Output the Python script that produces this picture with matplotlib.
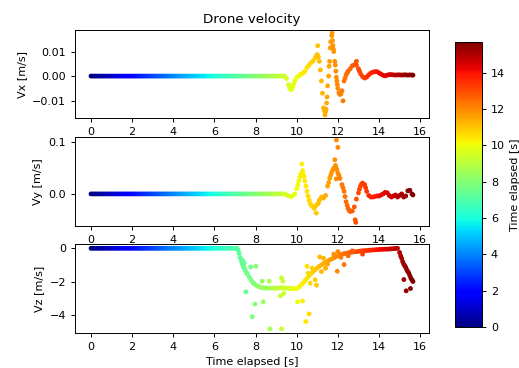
import numpy as np
import matplotlib
matplotlib.use("Agg")
import matplotlib.pyplot as plt

# sample times [s] (0.0 .. 15.6)
t = [
    0.0, 0.1, 0.2, 0.3, 0.4, 0.5, 0.6, 0.7, 0.8, 0.9,
    1.0, 1.1, 1.2, 1.3, 1.4, 1.5, 1.6, 1.7, 1.8, 1.9,
    2.0, 2.1, 2.2, 2.3, 2.4, 2.5, 2.6, 2.7, 2.8, 2.9,
    3.0, 3.1, 3.2, 3.3, 3.4, 3.5, 3.6, 3.7, 3.8, 3.9,
    4.0, 4.1, 4.2, 4.3, 4.4, 4.5, 4.6, 4.7, 4.8, 4.9,
    5.0, 5.1, 5.2, 5.3, 5.4, 5.5, 5.6, 5.7, 5.8, 5.9,
    6.0, 6.1, 6.2, 6.3, 6.4, 6.5, 6.6, 6.7, 6.8, 6.9,
    7.0, 7.1, 7.2, 7.3, 7.4, 7.5, 7.6, 7.7, 7.8, 7.9,
    8.0, 8.1, 8.2, 8.3, 8.4, 8.5, 8.6, 8.7, 8.8, 8.9,
    9.0, 9.1, 9.2, 9.3, 9.4, 9.5, 9.6, 9.7, 9.8, 9.9,
    10.0, 10.1, 10.2, 10.3, 10.4, 10.5, 10.6, 10.7, 10.8, 10.9,
    11.0, 11.1, 11.2, 11.3, 11.4, 11.5, 11.6, 11.7, 11.8, 11.9,
    12.0, 12.1, 12.2, 12.3, 12.4, 12.5, 12.6, 12.7, 12.8, 12.9,
    13.0, 13.1, 13.2, 13.3, 13.4, 13.5, 13.6, 13.7, 13.8, 13.9,
    14.0, 14.1, 14.2, 14.3, 14.4, 14.5, 14.6, 14.7, 14.8, 14.9,
    15.0, 15.1, 15.2, 15.3, 15.4, 15.5, 15.6,
]

# Vx [m/s]: still until 9.4 s
vx = [0.0] * 95 + [
    -0.001, -0.0035, -0.0055, -0.0045, -0.002,
    -0.0005, 0.0, 0.0008, 0.0012, 0.002, 0.0035, 0.0045, 0.0055, 0.0062, 0.0075,
    0.0088, 0.006, -0.002, -0.013, -0.0145, -0.004, 0.006, 0.0165, 0.010, 0.002,
    -0.005, -0.0075, -0.006, -0.002, 0.0005, 0.002, 0.003, 0.0042, 0.0046, 0.0045,
    0.003, 0.001, -0.0002, -0.0008, -0.0004, 0.0005, 0.0012, 0.0016, 0.0018, 0.0018,
    0.0013, 0.0008, 0.0003, 0.0001, 0.0004, 0.0006, 0.0006, 0.0005, 0.0004, 0.0005,
    0.0005, 0.0004, 0.0005, 0.0005, 0.0004, 0.0005, 0.0004,
]

# Vy [m/s]
vy = [0.0] * 95 + [
    -0.002, -0.004, -0.005, -0.004, 0.0,
    0.01, 0.025, 0.038, 0.040, 0.025, 0.005, -0.012, -0.022, -0.025, -0.024,
    -0.02, -0.012, -0.006, -0.008, -0.003, 0.015, 0.030, 0.042, 0.050, 0.052,
    0.040, 0.030, 0.018, 0.005, -0.015, -0.028, -0.034, -0.033, -0.025, -0.010,
    0.002, 0.015, 0.021, 0.018, 0.005, -0.003, -0.006, -0.006, -0.005, -0.004,
    -0.004, -0.002, 0.0, 0.003, 0.002, -0.003, -0.006, -0.004, -0.002, -0.006,
    -0.003, 0.0, -0.006, -0.004, 0.006, 0.007, 0.0,
]

# Vz [m/s]: descent starts at ~7.1 s
vz = [0.0] * 72 + [
    -0.3, -0.75, -1.1, -1.35, -1.55, -1.75, -1.95, -2.1,
    -2.2, -2.28, -2.33, -2.36, -2.38, -2.39, -2.4, -2.4, -2.4, -2.4,
    -2.4, -2.39, -2.38, -2.38, -2.39, -2.4, -2.41, -2.42, -2.42, -2.43,
    -2.42, -2.35, -2.22, -2.1, -1.95, -1.8, -1.65, -1.52, -1.4, -1.28,
    -1.18, -1.08, -1.0, -0.92, -0.85, -0.78, -0.7, -0.64, -0.58, -0.5,
    -0.45, -0.4, -0.36, -0.32, -0.3, -0.27, -0.25, -0.23, -0.21, -0.2,
    -0.18, -0.16, -0.15, -0.14, -0.13, -0.12, -0.11, -0.1, -0.09, -0.08,
    -0.07, -0.06, -0.06, -0.05, -0.05, -0.04, -0.03, -0.02, -0.01, 0.0,
    -0.25, -0.6, -0.95, -1.15, -1.4, -1.65, -1.9,
]

# extra samples in the fast parts + outliers
t_vx_extra = [9.65, 9.75, 9.85, 10.95, 11.02, 11.05, 11.15, 11.25, 11.35, 11.375,
              11.425, 11.45, 11.475, 11.55, 11.575, 11.625, 11.65, 11.72, 11.74, 11.76,
              11.78, 11.85, 11.875, 11.925, 11.95, 11.975, 12.05, 12.15, 12.25, 12.35,
              12.45, 12.9, 13.05, 15.65]
vx_extra = [-0.0047, -0.0053, -0.0033, 0.0082, 0.0124, 0.0078, 0.0025, -0.007, -0.0142, -0.0158,
            -0.0135, -0.011, -0.0085, 0.0, 0.004, 0.0115, 0.014, 0.0175, 0.0145, 0.0125,
            0.011, 0.006, 0.0045, -0.0005, -0.002, -0.0035, -0.0068, -0.0072, -0.0101, -0.0008,
            0.0013, 0.006, 0.002, 0.0004]

t_vy_extra = [10.05, 10.15, 10.25, 10.28, 10.35, 10.45, 10.55, 10.65, 10.85, 10.95,
              11.05, 11.55, 11.65, 11.75, 11.85, 11.88, 11.92, 11.93, 11.95, 12.0,
              12.05, 12.25, 12.35, 12.45, 12.55, 12.84, 12.87, 13.05, 13.15, 13.35,
              15.65]
vy_extra = [0.017, 0.032, 0.058, 0.045, 0.034, 0.015, -0.004, -0.018, -0.028, -0.037,
            -0.018, 0.022, 0.036, 0.046, 0.066, 0.055, 0.029, 0.104, 0.047, 0.090,
            0.036, 0.012, -0.005, -0.022, -0.032, -0.050, -0.055, 0.009, 0.019, 0.012,
            -0.002]

t_vz_extra = [7.15, 7.25, 7.35, 7.45, 7.55, 15.05, 15.15, 15.25, 15.35, 15.45,
              15.55, 15.65, 7.37, 7.45, 7.53, 7.76, 7.84, 7.97, 8.01, 8.32,
              8.37, 8.66, 8.7, 9.21, 9.26, 9.26, 9.33, 9.37, 10.04, 10.28,
              10.44, 10.5, 10.55, 10.6, 10.66, 10.75, 10.9, 10.96, 11.12, 11.3,
              11.2, 11.4, 11.5, 11.97, 12.3, 11.8, 12.0, 12.15, 12.5, 12.7,
              13.2, 15.21, 15.32, 15.53]
vz_extra = [-0.1, -0.55, -0.95, -1.2, -1.45, -0.45, -0.8, -1.05, -1.3, -1.5,
            -1.8, -2.0, -0.72, -0.9, -2.62, -1.12, -4.12, -3.36, -1.08, -1.98,
            -3.22, -1.98, -4.85, -2.86, -1.78, -4.85, -1.98, -2.72, -3.22, -3.17,
            -4.41, -1.08, -1.5, -3.95, -2.1, -1.2, -1.9, -2.22, -0.52, -0.6,
            -1.4, -1.2, -0.95, -1.38, -0.98, -0.35, -0.2, -0.55, -0.45, -0.15,
            -0.35, -1.88, -2.56, -2.42]

panels = [
    ("Vx [m/s]", vx, t_vx_extra, vx_extra, (-0.0171, 0.0188), [-0.01, 0.0, 0.01]),
    ("Vy [m/s]", vy, t_vy_extra, vy_extra, (-0.062, 0.110), [0.0, 0.1]),
    ("Vz [m/s]", vz, t_vz_extra, vz_extra, (-5.1, 0.26), [-4, -2, 0]),
]

W, H = 519, 368
fig = plt.figure(figsize=(W / 100, H / 100), dpi=100)

# axes boxes in pixels: (top, bottom)
rows = [(30, 118), (137, 226), (244, 333)]
left, right = 75, 429
t_max = 15.68

for (top, bottom), (ylabel, v, te, ve, ylim, yticks) in zip(rows, panels):
    ax = fig.add_axes([left / W, (H - bottom) / H, (right - left) / W, (bottom - top) / H])
    tt = np.array(t + te)
    vv = np.array(v + ve)
    order = np.argsort(tt)
    sc = ax.scatter(tt[order], vv[order], c=tt[order], cmap="jet", vmin=0, vmax=t_max, s=6)
    ax.set_xlim(-0.78, 16.43)
    ax.set_ylim(*ylim)
    ax.set_yticks(yticks)
    ax.set_xticks(range(0, 17, 2))
    ax.set_ylabel(ylabel, fontsize=8)
    ax.tick_params(labelsize=8, length=2.8, width=0.7)
    for sp in ax.spines.values():
        sp.set_linewidth(0.7)
    if top == 30:
        ax.set_title("Drone velocity", fontsize=9.6, pad=5)
    if top == 244:
        ax.set_xlabel("Time elapsed [s]", fontsize=8, labelpad=3.5)

cax = fig.add_axes([455 / W, (H - 327) / H, 27 / W, 285 / H])
cb = fig.colorbar(sc, cax=cax)
cb.set_label("Time elapsed [s]", fontsize=8)
cb.ax.tick_params(labelsize=8, length=2.8, width=0.7)
cb.outline.set_linewidth(0.7)

plt.savefig("out.png", dpi=100)
